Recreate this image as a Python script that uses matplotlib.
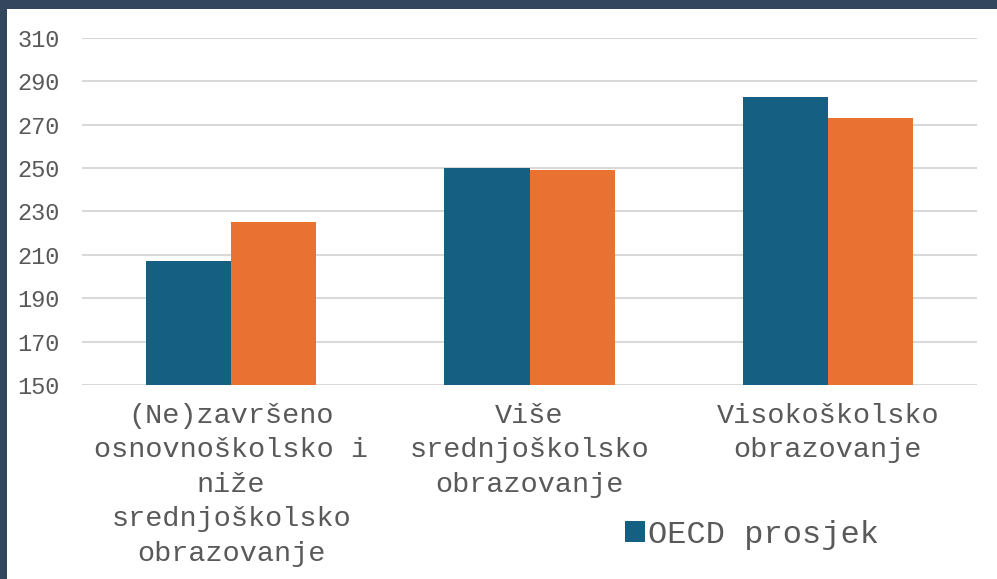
import matplotlib.pyplot as plt
import numpy as np
from matplotlib.patches import Rectangle

categories = ["(Ne)završeno\nosnovnoškolsko i\nniže\nsrednjoškolsko\nobrazovanje",
              "Više\nsrednjoškolsko\nobrazovanje",
              "Visokoškolsko\nobrazovanje"]
oecd = [207, 250, 283]
other = [225, 249, 273]
yticks = [150, 170, 190, 210, 230, 250, 270, 290, 310]

blue = "#156082"
orange = "#E97132"
grey = "#595959"

plt.rcParams['font.family'] = ['Liberation Mono', 'DejaVu Sans Mono']

fig = plt.figure(figsize=(9.97, 5.79), dpi=100)
fig.patch.set_facecolor("#33465e")
# white panel inside the dark frame
fig.patches.append(Rectangle((7/997, 0), 1, 1 - 9/579, transform=fig.transFigure,
                             facecolor="white", edgecolor="none", zorder=-10))

ax = fig.add_axes([82/997, 1 - 385/579, 895/997, 347/579])
ax.set_facecolor("none")

x = np.arange(len(categories))
w = 0.285
b1 = ax.bar(x - w/2, np.array(oecd) - 150, w, bottom=150, color=blue, label="OECD prosjek", zorder=3)
b2 = ax.bar(x + w/2, np.array(other) - 150, w, bottom=150, color=orange, zorder=3)

ax.set_xlim(-0.5, 2.5)
ax.set_ylim(150, 310)
ax.set_yticks(yticks)
ax.set_xticks(x)
ax.set_xticklabels(categories, fontsize=20.5, color=grey, linespacing=1.42)
ax.tick_params(axis='y', labelsize=17, colors=grey, length=0, pad=16)
ax.tick_params(axis='x', length=0, pad=13)
ax.grid(axis='y', color="#d9d9d9", linewidth=1.5, zorder=0)
for s in ax.spines.values():
    s.set_visible(False)

fig.legend(handles=[b1], labels=["OECD prosjek"], loc="center left",
           bbox_to_anchor=(596/997, 1 - 535/579), frameon=False,
           fontsize=23, labelcolor=grey, handlelength=0.62, handleheight=0.62,
           handletextpad=0.1)

fig.savefig("out.png", dpi=100, facecolor=fig.get_facecolor())
